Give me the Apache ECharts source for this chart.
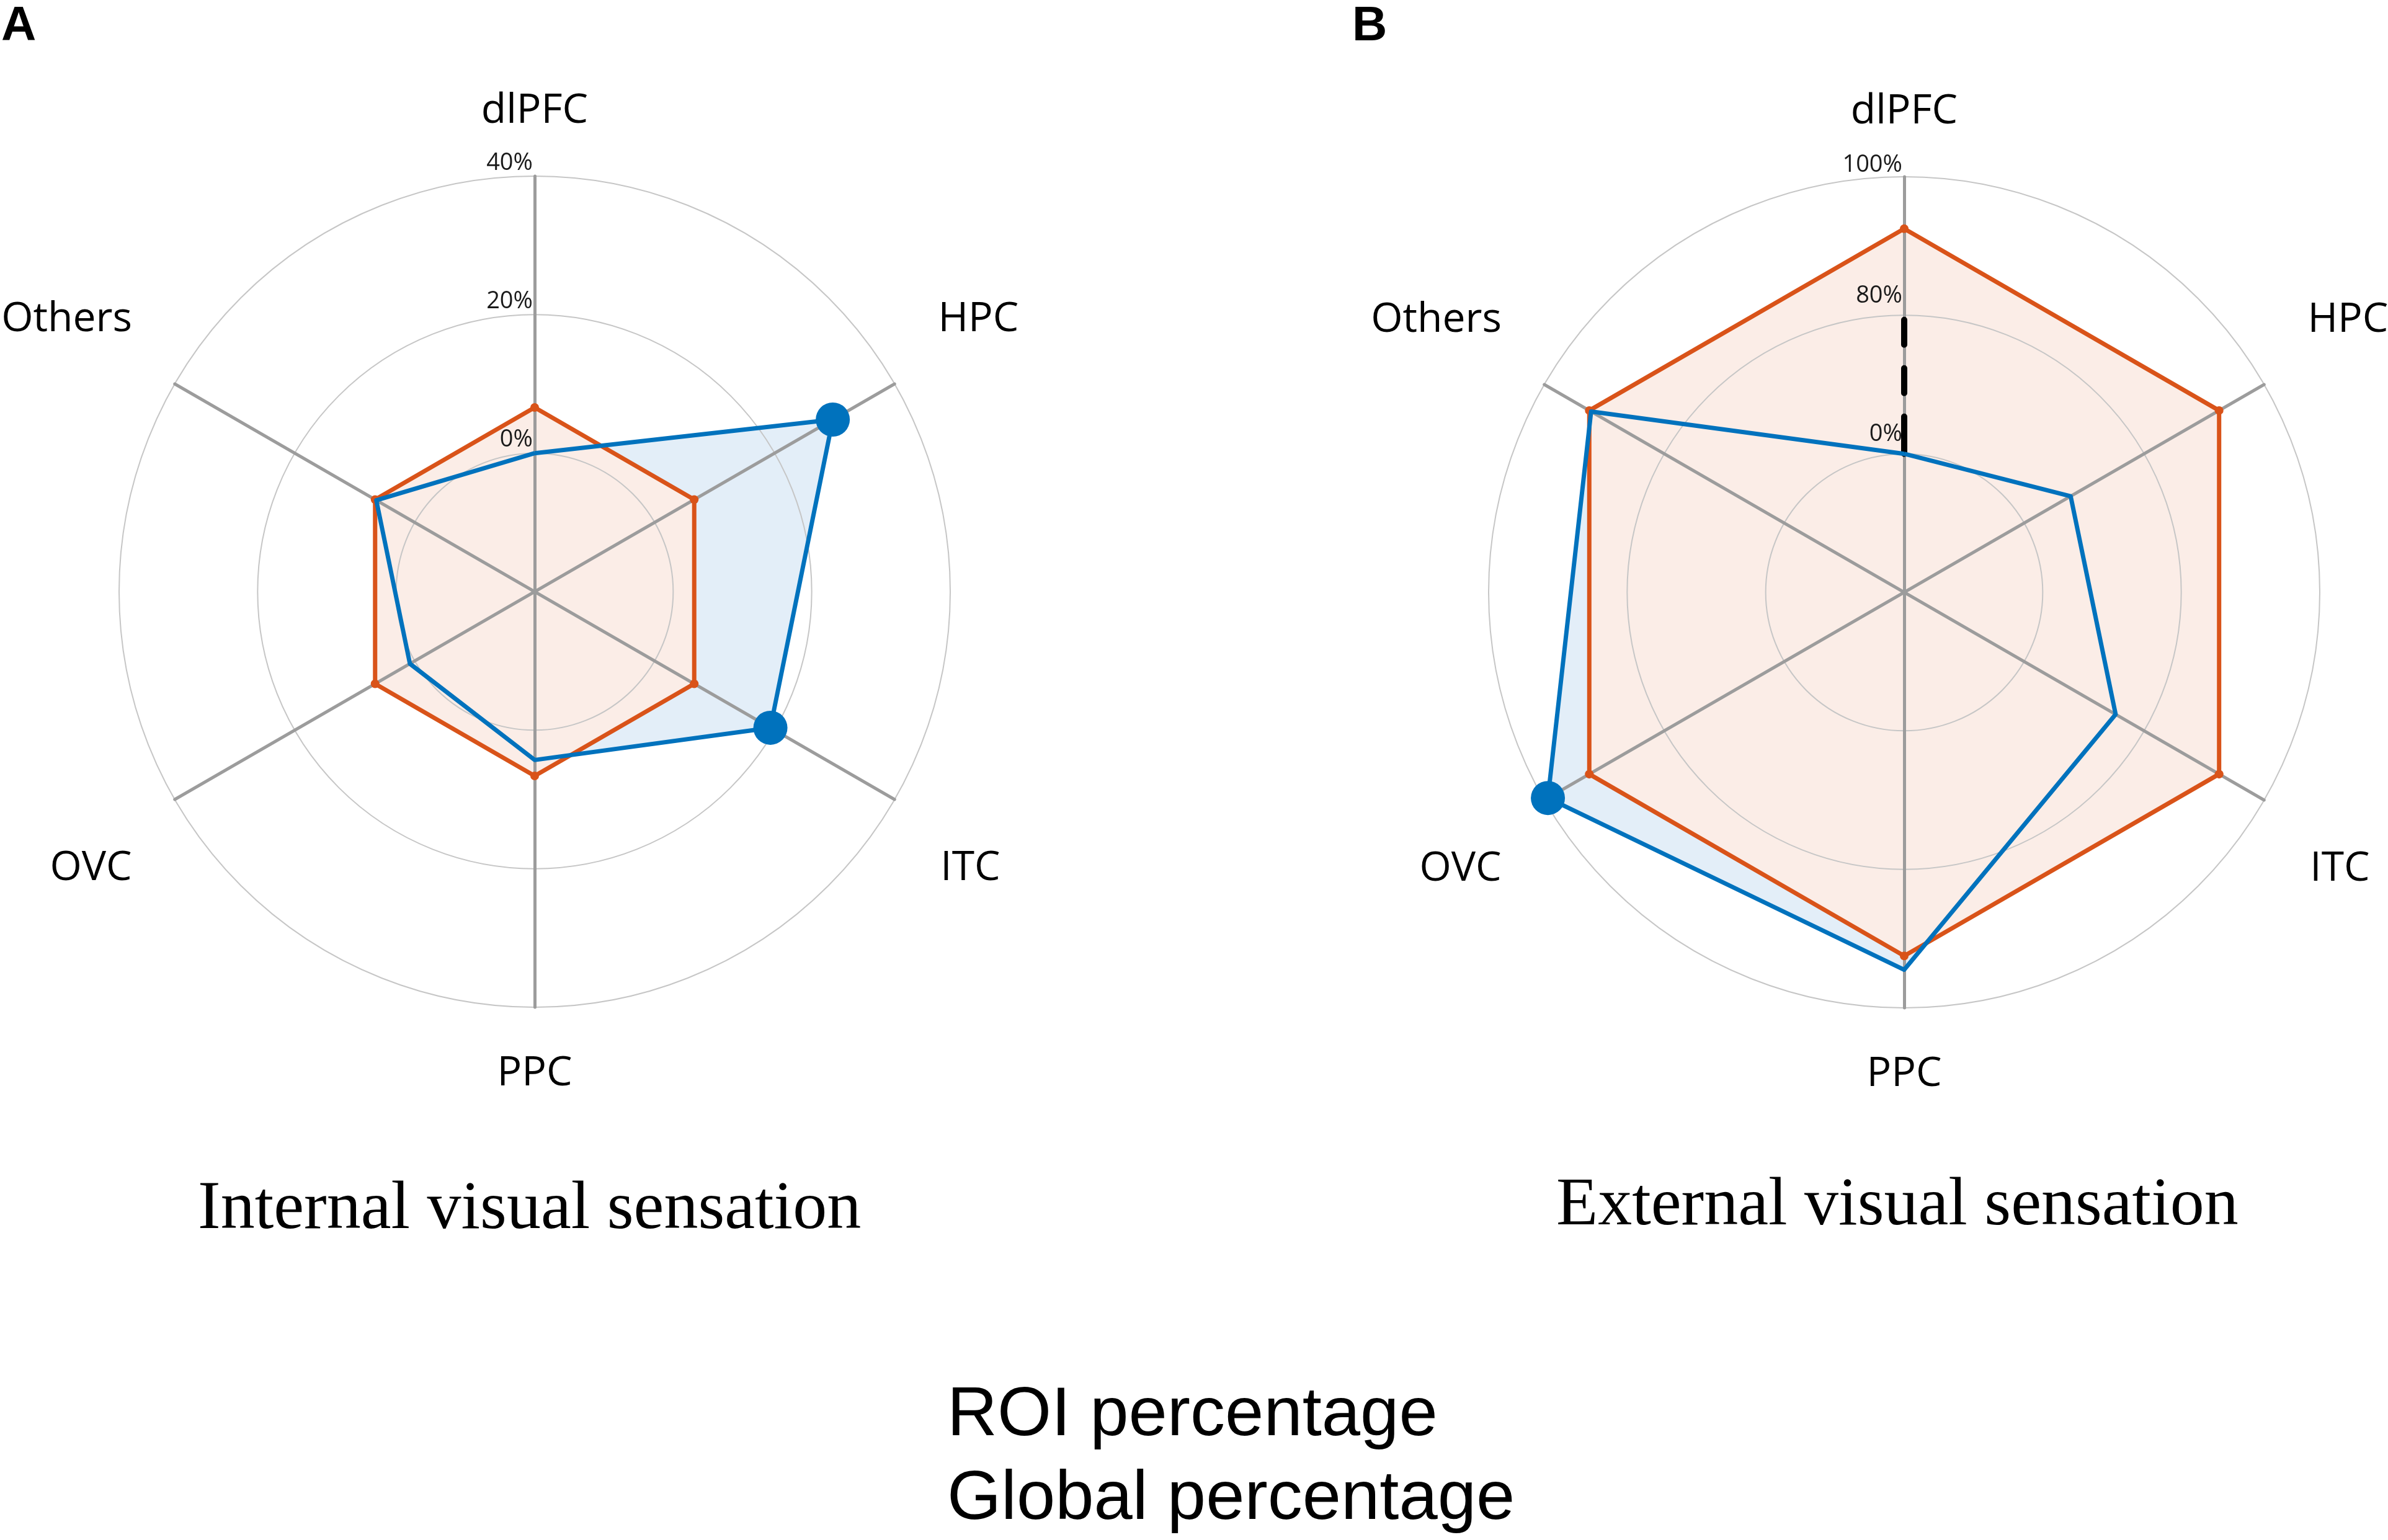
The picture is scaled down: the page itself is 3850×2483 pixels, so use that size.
<!DOCTYPE html>
<html><head><meta charset="utf-8">
<script src="https://cdn.jsdelivr.net/npm/echarts@6/dist/echarts.min.js"></script>
<style>html,body{margin:0;padding:0;background:#fff}#chart{width:3850px;height:2483px}</style>
</head><body><div id="chart"></div>
<script>
// ---------------- data ----------------
const indicators = ['dlPFC', 'Others', 'OVC', 'PPC', 'ITC', 'HPC'];
const roiA = [0, 6.4, 0.8, 4.3, 19.3, 29.7];
const globalA = [6.6, 6.6, 6.6, 6.6, 6.6, 6.6];
const roiB = [0, 92.2, 99.4, 94.5, 61, 31];
const globalB = [92.5, 92.5, 92.5, 92.5, 92.5, 92.5];
const highlightA = ['HPC', 'ITC'];
const highlightB = ['OVC'];
const tickLabelsA = ['0%', '20%', '40%'];
const tickLabelsB = ['0%', '80%', '100%'];
const seriesNames = ['ROI percentage', 'Global percentage'];
const panelTitles = ['Internal visual sensation', 'External visual sensation'];
const panelLetters = ['A', 'B'];

// Panel A: linear radial axis (-20 at centre, rings at 0 / 20 / 40 %)
const linearAxis = v => v;
// Panel B: broken radial axis (0-80 % squeezed into one ring, 80-100 % linear)
const brokenAxisB = v => (v <= 80 ? v / 4 : v - 60);

// ---------------- style / layout ----------------
const BLUE = '#0072BD', ORANGE = '#D95319';
const R = 670;
const centerA = [862, 954], centerB = [3070, 955];
const nameLayout = {
  dlPFC: { gap: 105, pad: [0, 0, 0, 0] },
  Others: { gap: 208, pad: [0, 0, 0, 12] },
  OVC: { gap: 222, pad: [0, 0, 0, 114] },
  PPC: { gap: 107, pad: [0, 0, 0, 0] },
  ITC: { gap: 222, pad: [0, 140, 0, 0] },
  HPC: { gap: 208, pad: [0, 90, 0, 0] }
};

function makeRadar(center, tickLabels, liftPx) {
  const rich = {};
  liftPx.forEach((p, k) => { rich['t' + k] = { padding: [0, 0, p, 0] }; });
  return {
    center: center, radius: R, shape: 'circle', splitNumber: 3, startAngle: 90, z: 2,
    indicator: indicators.map((name, i) => {
      const ind = { name: name, min: -20, max: 40, nameGap: nameLayout[name].gap,
        nameTextStyle: { padding: nameLayout[name].pad } };
      if (i === 0) {
        ind.axisLabel = {
          show: true, margin: 0, align: 'right', verticalAlign: 'bottom', padding: [0, 3, 0, 0],
          fontSize: 38, fontFamily: 'Open Sans', color: '#1a1a1a', rich: rich,
          formatter: v => {
            if (v < 0) return '';
            const k = Math.round(v / 20);
            return '{t' + k + '|' + tickLabels[k] + '}';
          }
        };
      }
      return ind;
    }),
    axisName: { show: true, color: '#000', fontSize: 66, fontFamily: 'Open Sans', align: 'center', verticalAlign: 'middle' },
    axisLine: { show: true, lineStyle: { color: '#9c9c9c', width: 5 } },
    splitLine: { show: true, lineStyle: { color: '#c6c6c6', width: 2 } },
    splitArea: { show: false },
    axisTick: { show: false },
    axisLabel: { show: false }
  };
}

// decorative axis-break marker on the top spoke of panel B (between 0 % and 80 % rings)
const breakRadar = {
  center: centerB, radius: [R / 3, 2 * R / 3], shape: 'circle', startAngle: 90, z: 3,
  indicator: indicators.map((name, i) => i === 0
    ? { name: name, min: 0, max: 1, axisLine: { show: true, lineStyle: { color: '#000', width: 10, type: [60, 38, 40, 38, 40, 100] } } }
    : { name: name, min: 0, max: 1 }),
  axisName: { show: false },
  axisLine: { show: false },
  splitLine: { show: false },
  splitArea: { show: false },
  axisTick: { show: false },
  axisLabel: { show: false }
};

function panelSeries(radarIndex, polarIndex, roi, glob, highlight, tf) {
  const roiV = roi.map(tf), globV = glob.map(tf);
  return [
    { type: 'radar', radarIndex: radarIndex, z: 1, symbol: 'none', silent: true,
      lineStyle: { width: 0, opacity: 0 }, areaStyle: { color: '#E3EEF8', opacity: 1 },
      data: [{ name: seriesNames[0], value: roiV }] },
    { type: 'radar', radarIndex: radarIndex, z: 1.5, symbol: 'none', silent: true,
      lineStyle: { width: 0, opacity: 0 }, areaStyle: { color: '#FBEDE7', opacity: 1 },
      data: [{ name: seriesNames[1], value: globV }] },
    { type: 'radar', radarIndex: radarIndex, z: 4, symbol: 'circle', symbolSize: 14,
      itemStyle: { color: ORANGE }, lineStyle: { color: ORANGE, width: 7 },
      data: [{ name: seriesNames[1], value: globV }] },
    { type: 'radar', radarIndex: radarIndex, z: 5, symbol: 'none',
      itemStyle: { color: BLUE }, lineStyle: { color: BLUE, width: 7 },
      data: [{ name: seriesNames[0], value: roiV }] },
    { type: 'scatter', name: seriesNames[0], coordinateSystem: 'polar', polarIndex: polarIndex, z: 6,
      symbolSize: 55, itemStyle: { color: BLUE, opacity: 1 },
      data: highlight.map(n => [tf(roi[indicators.indexOf(n)]), n]) }
  ];
}

const chart = echarts.init(document.getElementById('chart'));
const letterStyle = { fontFamily: 'Liberation Sans', fontWeight: 'bold', fontSize: 78, color: '#000' };
const titleStyle = { fontFamily: 'Liberation Serif', fontWeight: 'normal', fontSize: 110, color: '#000' };

chart.setOption({
  animation: false,
  backgroundColor: '#fff',
  title: [
    { text: panelLetters[0], left: 2, top: 4, padding: 0, textStyle: letterStyle },
    { text: panelLetters[1], left: 2180, top: 4, padding: 0, textStyle: letterStyle },
    { text: panelTitles[0], left: 319, top: 1896, padding: 0, textStyle: titleStyle },
    { text: panelTitles[1], left: 2509, top: 1890, padding: 0, textStyle: titleStyle }
  ],
  legend: {
    data: seriesNames, orient: 'vertical', left: 1522, top: 2216, height: 400, padding: 0,
    icon: 'none', itemWidth: 0, itemHeight: 0, itemGap: 0, selectedMode: false,
    textStyle: { fontFamily: 'Liberation Sans', fontSize: 112, lineHeight: 135, color: '#000' }
  },
  radar: [
    makeRadar(centerA, tickLabelsA, [2, 2, 2]),
    makeRadar(centerB, tickLabelsB, [12, 12, 0]),
    breakRadar
  ],
  polar: [{ center: centerA, radius: R }, { center: centerB, radius: R }],
  angleAxis: [0, 1].map(i => ({ polarIndex: i, type: 'category', data: indicators, startAngle: 90,
    clockwise: false, boundaryGap: false, show: false })),
  radiusAxis: [0, 1].map(i => ({ polarIndex: i, type: 'value', min: -20, max: 40, show: false })),
  series: [].concat(
    panelSeries(0, 0, roiA, globalA, highlightA, linearAxis),
    panelSeries(1, 1, roiB, globalB, highlightB, brokenAxisB)
  )
});
</script></body></html>
